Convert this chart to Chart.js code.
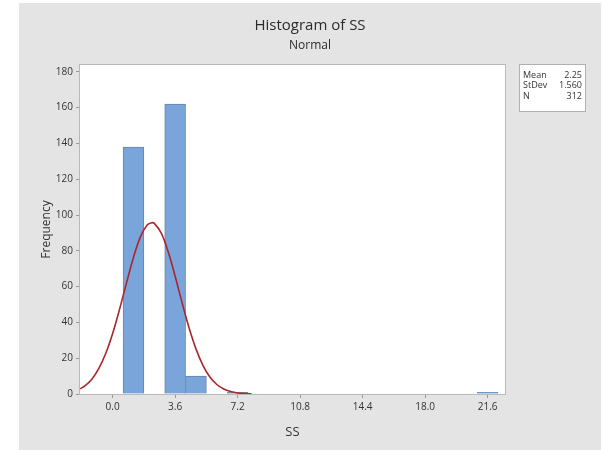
<!DOCTYPE html>
<html>
<head>
<meta charset="utf-8">
<script src="https://cdn.jsdelivr.net/npm/chart.js@4"></script>
<style>
  html, body { margin: 0; padding: 0; background: #fff; }
  #wrap { width: 603px; height: 450px; }
</style>
</head>
<body>
<div id="wrap"><canvas id="histChart" width="603" height="450"></canvas></div>
<script>
// histogram bins (centre of each 1.2 wide bin) and counts
const binCenters = [1.2, 3.6, 4.8, 7.2, 21.6];
const binCounts = [138, 162, 10, 1, 1];

// fitted normal curve
const fitX = [-1.88, -1.6, -1.2, -0.8, -0.4, 0.0, 0.4, 0.8, 1.2, 1.6, 2.0, 2.25, 2.4, 2.8, 3.2, 3.6, 4.0, 4.4, 4.8, 5.2, 5.6, 6.0, 6.4, 6.8, 7.2, 7.6, 8.0];
const fitY = [2.9, 4.5, 8.3, 14.2, 22.6, 33.8, 47.4, 62.1, 76.3, 87.8, 94.5, 95.7, 95.3, 89.9, 79.5, 65.8, 51.0, 37.0, 25.2, 16.0, 9.5, 5.3, 2.8, 1.4, 0.6, 0.3, 0.1];

const xTickValues = [0, 3.6, 7.2, 10.8, 14.4, 18.0, 21.6];
const yTickValues = [0, 20, 40, 60, 80, 100, 120, 140, 160, 180];

const statLabels = ['Mean', 'StDev', 'N'];
const statValues = ['2.25', '1.560', '312'];

const FONT = "'Open Sans', 'Noto Sans', sans-serif";

const backdrop = {
    id: 'backdrop',
    beforeDraw(chart) {
        const ctx = chart.ctx;
        const a = chart.chartArea;
        ctx.save();
        ctx.fillStyle = '#ffffff';
        ctx.fillRect(0, 0, chart.width, chart.height);
        ctx.fillStyle = '#e4e4e4';
        ctx.fillRect(19, 3, 582, 447);
        ctx.fillStyle = '#ffffff';
        ctx.fillRect(a.left, a.top, a.right - a.left, a.bottom - a.top);
        ctx.restore();
    },
    afterDraw(chart) {
        const ctx = chart.ctx;
        const a = chart.chartArea;
        ctx.save();
        // plot frame
        ctx.strokeStyle = '#b9b9b9';
        ctx.lineWidth = 1;
        ctx.strokeRect(a.left - 0.5, a.top - 0.5, a.right - a.left + 1, a.bottom - a.top + 1);

        // stats box
        const bx = 519, by = 64, bw = 66, bh = 47;
        ctx.fillStyle = '#ffffff';
        ctx.fillRect(bx, by, bw, bh);
        ctx.strokeStyle = '#b0b0b0';
        ctx.strokeRect(bx + 0.5, by + 0.5, bw, bh);
        ctx.fillStyle = '#333333';
        ctx.font = '9px ' + FONT;
        ctx.textBaseline = 'middle';
        statLabels.forEach((lab, i) => {
            const y = by + 11 + i * 10.5;
            ctx.textAlign = 'left';
            ctx.fillText(lab, bx + 4, y);
            ctx.textAlign = 'right';
            ctx.fillText(statValues[i], bx + bw - 3, y);
        });
        ctx.restore();
    }
};

const ctx = document.getElementById('histChart').getContext('2d');

const histChart = new Chart(ctx, {
    type: 'bar',
    data: {
        datasets: [{
            type: 'line',
            label: 'Normal fit',
            data: fitX.map((x, i) => ({ x: x, y: fitY[i] })),
            borderColor: '#ab262c',
            borderWidth: 1.6,
            pointRadius: 0,
            tension: 0.35,
            fill: false,
            order: 0
        }, {
            type: 'bar',
            label: 'SS',
            data: binCenters.map((x, i) => ({ x: x, y: binCounts[i] })),
            backgroundColor: '#7aa5da',
            borderColor: '#6784a8',
            borderWidth: 1,
            borderSkipped: 'bottom',
            barPercentage: 1,
            categoryPercentage: 1,
            order: 1
        }]
    },
    options: {
        responsive: false,
        animation: false,
        devicePixelRatio: 1,
        layout: {
            padding: { left: 19, right: 2, top: 0, bottom: 0 }
        },
        plugins: {
            legend: { display: false },
            tooltip: { enabled: false },
            title: {
                display: true,
                text: 'Histogram of SS',
                color: '#2b2b2b',
                font: { family: FONT, size: 15, weight: 'normal' },
                padding: { top: 17, bottom: 0 }
            },
            subtitle: {
                display: true,
                text: 'Normal',
                color: '#2b2b2b',
                font: { family: FONT, size: 12, weight: 'normal' },
                padding: { top: 3, bottom: 12.6 }
            }
        },
        scales: {
            x: {
                type: 'linear',
                min: -1.88,
                max: 22.6,
                offset: false,
                afterBuildTicks: s => { s.ticks = xTickValues.map(v => ({ value: v })); },
                afterFit: s => { s.height = 56; },
                grid: { offset: false, drawOnChartArea: false, drawTicks: true, tickLength: 4, color: '#9a9a9a' },
                border: { display: false },
                ticks: {
                    color: '#333333',
                    font: { family: FONT, size: 10 },
                    padding: 3,
                    maxRotation: 0,
                    callback: v => v.toFixed(1)
                },
                title: {
                    display: true,
                    text: 'SS',
                    color: '#333333',
                    font: { family: FONT, size: 13 },
                    padding: { top: 0, bottom: 10 }
                }
            },
            y: {
                min: 0,
                max: 183.8,
                afterBuildTicks: s => { s.ticks = yTickValues.map(v => ({ value: v })); },
                afterFit: s => { s.width = 61; },
                grid: { drawOnChartArea: false, drawTicks: true, tickLength: 4, color: '#9a9a9a' },
                border: { display: false },
                ticks: {
                    color: '#333333',
                    font: { family: FONT, size: 10 },
                    padding: 3
                },
                title: {
                    display: true,
                    text: 'Frequency',
                    color: '#333333',
                    font: { family: FONT, size: 12 },
                    padding: { top: 20, bottom: 0 }
                }
            },
            side: {
                position: 'right',
                display: true,
                afterFit: s => { s.width = 96; },
                grid: { display: false },
                border: { display: false },
                ticks: { display: false }
            }
        }
    },
    plugins: [backdrop]
});
</script>
</body>
</html>
